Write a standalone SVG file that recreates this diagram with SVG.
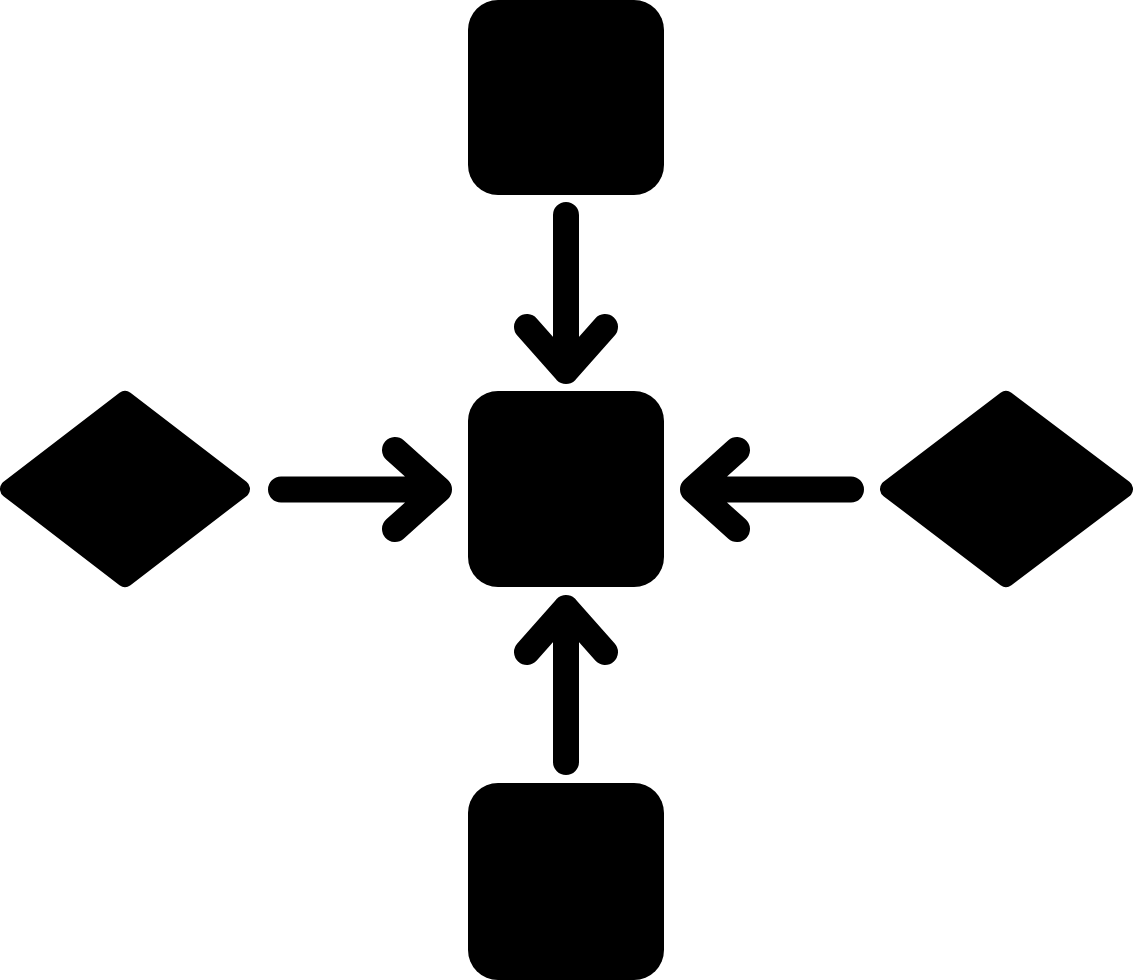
<svg xmlns="http://www.w3.org/2000/svg" width="1133" height="980" viewBox="0 0 1133 980">
<style>
.sq{fill:#000}
.dm{fill:#000;stroke:#000;stroke-width:18;stroke-linejoin:round}
.ar{fill:none;stroke:#000;stroke-width:26;stroke-linecap:round;stroke-linejoin:round}
</style>
<rect width="1133" height="980" fill="#fff"/>
<g id="node-top"><rect class="sq" x="468" y="0" width="196" height="195" rx="30"/></g>
<g id="node-center"><rect class="sq" x="468" y="391" width="196" height="196" rx="30"/></g>
<g id="node-bottom"><rect class="sq" x="468" y="783" width="196" height="197" rx="30"/></g>
<g id="node-left"><polygon class="dm" points="9,489 125,400 241,489 125,578"/></g>
<g id="node-right"><polygon class="dm" points="889,489 1006,400 1124,489 1006,578"/></g>
<g id="connectors">
<path class="ar" d="M566 215V371M527 327L566 371L605 327"/>
<path class="ar" d="M566 762V608M527 652L566 608L605 652"/>
<path class="ar" d="M281 489.5H439M395 450L439 489.5L395 529"/>
<path class="ar" d="M851 489.5H693M737 450L693 489.5L737 529"/>
</g>
</svg>
